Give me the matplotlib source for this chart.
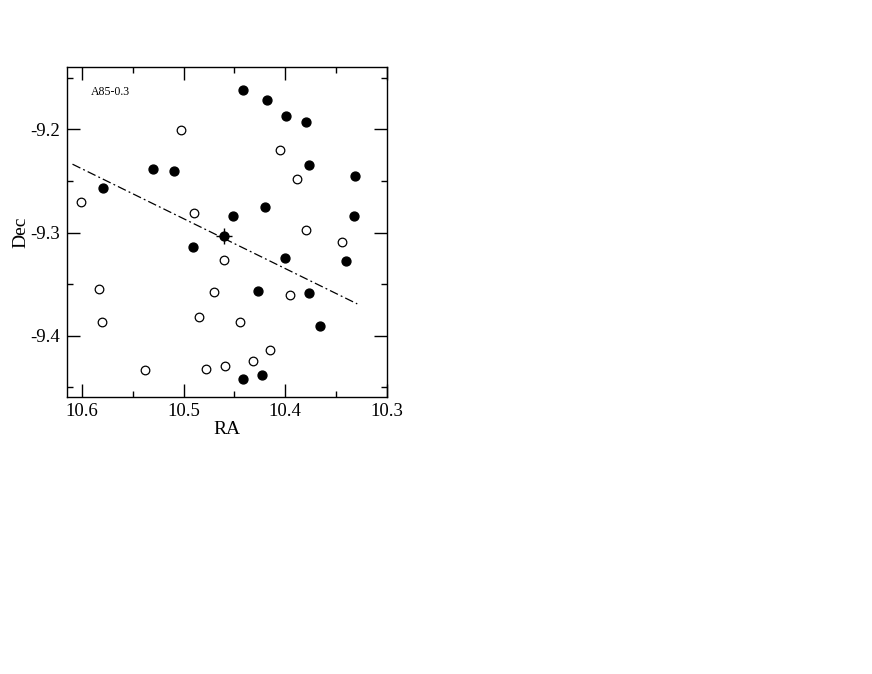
"""Galaxy positions in the A85-0.3 field, RA vs Dec."""

import matplotlib
matplotlib.use("Agg")
import matplotlib.pyplot as plt
from matplotlib.ticker import MultipleLocator

# filled circles
ra_filled = [10.530, 10.509, 10.579, 10.4605, 10.441, 10.4177, 10.3994, 10.3793,
             10.3767, 10.3317, 10.4194, 10.4512, 10.3324, 10.491, 10.4004,
             10.3403, 10.4266, 10.3767, 10.3659, 10.4414, 10.4227]
dec_filled = [-9.238, -9.240, -9.257, -9.303, -9.1623, -9.1717, -9.1871, -9.1929,
              -9.2348, -9.2448, -9.2748, -9.2835, -9.2835, -9.3144, -9.3246,
              -9.3279, -9.3562, -9.3585, -9.3907, -9.4422, -9.4384]

# open circles
ra_open = [10.5025, 10.601, 10.490, 10.4046, 10.3882, 10.379, 10.460, 10.5836,
           10.4703, 10.4844, 10.5803, 10.5376, 10.4775, 10.4595, 10.3438,
           10.3955, 10.4447, 10.4145, 10.4315]
dec_open = [-9.2004, -9.2705, -9.2815, -9.2203, -9.2483, -9.2976, -9.3263, -9.3546,
            -9.3579, -9.3816, -9.3869, -9.4329, -9.4319, -9.429, -9.3092,
            -9.3601, -9.3862, -9.4135, -9.4242]

# centre marker
ra_centre = [10.4605]
dec_centre = [-9.303]

# dash-dot line
ra_line = [10.6093, 10.329]
dec_line = [-9.2338, -9.3691]

plt.rcParams["font.family"] = ["Liberation Serif", "DejaVu Serif"]
plt.rcParams["axes.unicode_minus"] = False

fig = plt.figure(figsize=(8.72, 6.74), dpi=100)
ax = fig.add_axes([0.0765, 0.4114, 0.367, 0.4887])

ax.plot(ra_line, dec_line, color="black", lw=0.9, dashes=(7, 2.5, 1.5, 2.5))
ax.plot(ra_open, dec_open, "o", ms=6.2, mfc="white", mec="black", mew=0.9, ls="none")
ax.plot(ra_filled, dec_filled, "o", ms=6.4, mfc="black", mec="black", ls="none")
ax.plot(ra_centre, dec_centre, "+", ms=11, mew=1.0, color="black", ls="none")

ax.set_xlim(10.615, 10.3)
ax.set_ylim(-9.459, -9.14)
ax.xaxis.set_major_locator(MultipleLocator(0.1))
ax.xaxis.set_minor_locator(MultipleLocator(0.05))
ax.yaxis.set_major_locator(MultipleLocator(0.1))
ax.yaxis.set_minor_locator(MultipleLocator(0.05))
ax.tick_params(which="both", direction="in", top=True, right=True, width=1.0)
ax.tick_params(which="major", length=9.5, labelsize=13.5, pad=4.5)
ax.tick_params(which="minor", length=4.5)
for s in ax.spines.values():
    s.set_linewidth(1.0)

ax.set_xlabel("RA", fontsize=14, labelpad=1)
ax.set_ylabel("Dec", fontsize=14, labelpad=1)
ax.text(0.075, 0.925, "A85-0.3", transform=ax.transAxes, fontsize=8.5, va="center")

fig.savefig("out.png", dpi=100)
